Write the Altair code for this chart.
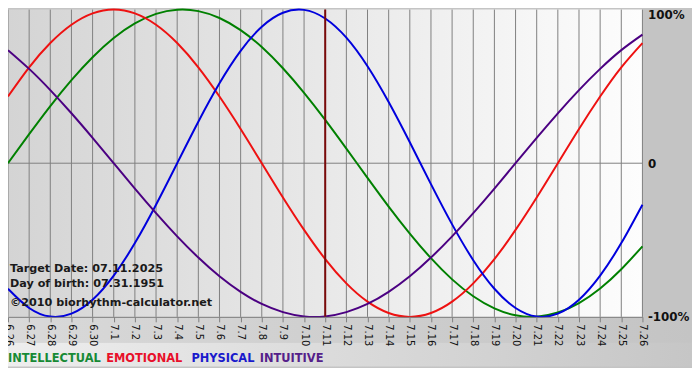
import altair as alt
import pandas as pd

# ---- data ----
day_labels = ["6.26", "6.27", "6.28", "6.29", "6.30", "7.1", "7.2", "7.3", "7.4", "7.5",
              "7.6", "7.7", "7.8", "7.9", "7.10", "7.11", "7.12", "7.13", "7.14", "7.15",
              "7.16", "7.17", "7.18", "7.19", "7.20", "7.21", "7.22", "7.23", "7.24", "7.25", "7.26"]

intellectual = [0.0, 0.189, 0.372, 0.541, 0.690, 0.815, 0.910, 0.972, 0.999, 0.990,
                0.945, 0.866, 0.756, 0.618, 0.458, 0.282, 0.095, -0.095, -0.282, -0.458,
                -0.618, -0.756, -0.866, -0.945, -0.990, -0.999, -0.972, -0.910, -0.815, -0.690, -0.541]
emotional = [0.434, 0.624, 0.782, 0.901, 0.975, 1.0, 0.975, 0.901, 0.782, 0.624,
             0.434, 0.223, 0.0, -0.223, -0.434, -0.624, -0.782, -0.901, -0.975, -1.0,
             -0.975, -0.901, -0.782, -0.624, -0.434, -0.223, 0.0, 0.223, 0.434, 0.624, 0.782]
physical = [-0.817, -0.942, -0.998, -0.979, -0.888, -0.731, -0.520, -0.270, 0.0, 0.270,
            0.520, 0.731, 0.888, 0.979, 0.998, 0.942, 0.817, 0.631, 0.398, 0.136,
            -0.136, -0.398, -0.631, -0.817, -0.942, -0.998, -0.979, -0.888, -0.731, -0.520, -0.270]
intuitive = [0.736, 0.614, 0.476, 0.325, 0.165, 0.0, -0.165, -0.325, -0.476, -0.614,
             -0.736, -0.837, -0.916, -0.969, -0.997, -0.997, -0.969, -0.916, -0.837, -0.736,
             -0.614, -0.476, -0.325, -0.165, 0.0, 0.165, 0.325, 0.476, 0.614, 0.736, 0.837]

series_names = ["INTELLECTUAL", "EMOTIONAL", "PHYSICAL", "INTUITIVE"]
series_colors = ["#008000", "#ee1111", "#0000dd", "#4b0082"]
legend_colors = ["#178a35", "#e8102a", "#1a1acc", "#55208a"]
legend_x = [0, 99, 185, 254]

target_day = 15
info_lines = ["Target Date: 07.11.2025", "Day of birth: 07.31.1951", "\u00a92010 biorhythm-calculator.net"]
info_y = [262, 277, 296]

y_values = [-1, 0, 1]

W, H = 640, 310

# ---- tables ----
rows = []
for name, vals in zip(series_names, [intellectual, emotional, physical, intuitive]):
    for i, v in enumerate(vals):
        rows.append({"day": i, "value": v, "series": name})
df = pd.DataFrame(rows)
days_df = pd.DataFrame({"day": list(range(len(day_labels)))})
one = pd.DataFrame({"a": [0]})
info_df = pd.DataFrame({"text": info_lines, "y": info_y})
legend_df = pd.DataFrame({"text": series_names, "x": legend_x, "c": legend_colors})

label_expr = "[" + ",".join("'" + s + "'" for s in day_labels) + "][datum.value]"

x_scale = alt.Scale(domain=[0, len(day_labels) - 1], nice=False, zero=False)
y_scale = alt.Scale(domain=[-1, 1], nice=False)

x_axis = alt.Axis(values=list(range(len(day_labels))), labelExpr=label_expr, labelAngle=90,
                  grid=False, domainColor="#808080", tickColor="#808080", tickSize=5,
                  labelFont="DejaVu Sans", labelFontSize=10, labelColor="#111111",
                  labelPadding=2, labelOverlap=False, labelBound=False, title=None, zindex=1)
y_axis = alt.Axis(orient="right", values=y_values,
                  labelExpr="datum.value == 1 ? '100%' : (datum.value == 0 ? '0' : '-100%')",
                  grid=False, domain=False, ticks=False, labelFont="DejaVu Sans",
                  labelFontWeight="bold", labelFontSize=12, labelColor="#111111",
                  labelPadding=5, labelOverlap=False, title=None, zindex=1,
                  labelBaseline={"condition": {"test": "datum.value == 1", "value": "top"}, "value": "middle"})

def grad(c1, c2):
    return alt.LinearGradient(gradient="linear",
                              stops=[alt.GradientStop(color=c1, offset=0), alt.GradientStop(color=c2, offset=1)],
                              x1=0, x2=1, y1=0, y2=0)

band1 = alt.Chart(one).mark_rect(fill=grad("#d9d9d9", "#c4c4c4")).encode(
    x=alt.value(0), x2=alt.value(W + 50), y=alt.value(H), y2=alt.value(H + 26))
band2 = alt.Chart(one).mark_rect(fill=grad("#eeeeee", "#c6c6c6")).encode(
    x=alt.value(0), x2=alt.value(W + 50), y=alt.value(H + 26), y2=alt.value(H + 50))
plot_bg = alt.Chart(one).mark_rect(fill=grad("#d4d4d4", "#fdfdfd")).encode(
    x=alt.value(0), x2=alt.value(W), y=alt.value(0), y2=alt.value(H))

grid = alt.Chart(days_df).mark_rule(color="#808080", strokeWidth=1).encode(
    x=alt.X("day:Q", scale=x_scale, axis=x_axis))
zero = alt.Chart(one).mark_rule(color="#808080", strokeWidth=1).encode(
    y=alt.datum(0, scale=y_scale, axis=y_axis))

lines = alt.Chart(df).mark_line(strokeWidth=2, interpolate="natural").encode(
    x=alt.X("day:Q", scale=x_scale, axis=x_axis),
    y=alt.Y("value:Q", scale=y_scale, axis=y_axis),
    color=alt.Color("series:N", scale=alt.Scale(domain=series_names, range=series_colors), legend=None),
    detail="series:N")

target = alt.Chart(one).mark_rule(color="#7a0a0a", strokeWidth=2).encode(
    x=alt.datum(target_day, scale=x_scale, axis=x_axis))

info = alt.Chart(info_df).mark_text(align="left", baseline="middle", font="DejaVu Sans",
                                    fontWeight="bold", fontSize=11.3, color="#1a1a1a").encode(
    x=alt.value(2), y=alt.Y("y:Q", scale=None), text="text:N")

legend = alt.Chart(legend_df).mark_text(align="left", baseline="middle", font="DejaVu Sans",
                                        fontWeight="bold", fontSize=11.5).encode(
    x=alt.X("x:Q", scale=None), y=alt.value(H + 43), text="text:N",
    color=alt.Color("c:N", scale=None))

chart = alt.layer(band1, band2, plot_bg, grid, zero, lines, target, info, legend).resolve_scale(
    color="independent").properties(
    width=W, height=H,
    autosize=alt.AutoSizeParams(type="none"),
    padding={"left": 0, "top": 0, "right": 50, "bottom": 50},
    background="#c4c4c4",
).configure_view(strokeWidth=0).configure_axis(labelOverlap=False)

chart.save("out.html", embed_options={"renderer": "svg", "actions": False})
